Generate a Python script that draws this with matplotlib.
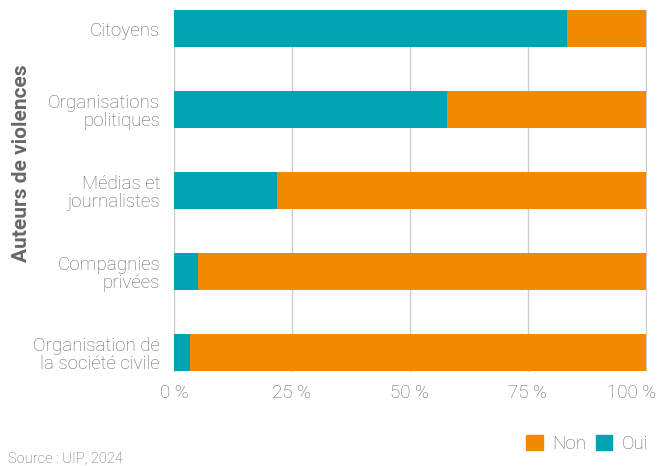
import matplotlib.pyplot as plt
import matplotlib.transforms as mtransforms
from matplotlib.patches import Patch

categories = ["Citoyens", "Organisations\npolitiques", "Médias et\njournalistes",
              "Compagnies\nprivées", "Organisation de\nla société civile"]
oui = [83.3, 57.9, 21.8, 5.1, 3.4]
non = [100 - v for v in oui]
ticks = [0, 25, 50, 75, 100]
tick_labels = ["0 %", "25 %", "50 %", "75 %", "100 %"]

teal = "#00A3B4"
orange = "#F28A00"
grey = "#666666"

plt.rcParams['font.family'] = ['Roboto', 'DejaVu Sans']

fig = plt.figure(figsize=(6.6, 4.66), dpi=100)
ax = fig.add_axes([174 / 660, 1 - 371.5 / 466, (647 - 174) / 660, (371.5 - 10) / 466])

y = list(range(len(categories)))
h = 0.457
ax.barh(y, oui, height=h, color=teal, zorder=3)
ax.barh(y, non, left=oui, height=h, color=orange, zorder=3)

ax.set_ylim(len(categories) - 1 + h / 2, -h / 2)
ax.set_xlim(0, 100.3)
ax.set_xticks(ticks)
ax.set_xticklabels(tick_labels)
ax.set_yticks(y)
ax.set_yticklabels(categories, linespacing=1.0)
ax.tick_params(axis='both', length=0, labelsize=13.5, labelcolor=grey)
ax.tick_params(axis='x', pad=9)
ax.tick_params(axis='y', pad=10)
for lab in ax.get_xticklabels() + ax.get_yticklabels():
    lab.set_fontweight('light')
last = ax.get_xticklabels()[-1]
last.set_transform(last.get_transform() + mtransforms.ScaledTranslation(-14 / 100, 0, fig.dpi_scale_trans))
for s in ax.spines.values():
    s.set_visible(False)
ax.grid(axis='x', color='#cccccc', lw=1, zorder=0)
ax.set_axisbelow(True)

fig.text(22 / 660, 1 - 163 / 466, "Auteurs de violences", rotation=90, ha='center', va='center',
         fontsize=15, fontweight='bold', color=grey)
fig.text(8 / 660, 1 - 459 / 466, "Source : UIP, 2024", ha='left', va='center', fontsize=10.5,
         fontweight='light', color=grey)

handles = [Patch(color=orange, label="Non"), Patch(color=teal, label="Oui")]
leg = fig.legend(handles=handles, loc='lower right', bbox_to_anchor=(665 / 660, -4 / 466), ncol=2,
                 frameon=False, handlelength=0.9, handleheight=0.9, handletextpad=0.5,
                 columnspacing=0.5, fontsize=13.5, labelcolor=grey)
for t in leg.get_texts():
    t.set_fontweight('light')

fig.savefig("out.png", dpi=100)
